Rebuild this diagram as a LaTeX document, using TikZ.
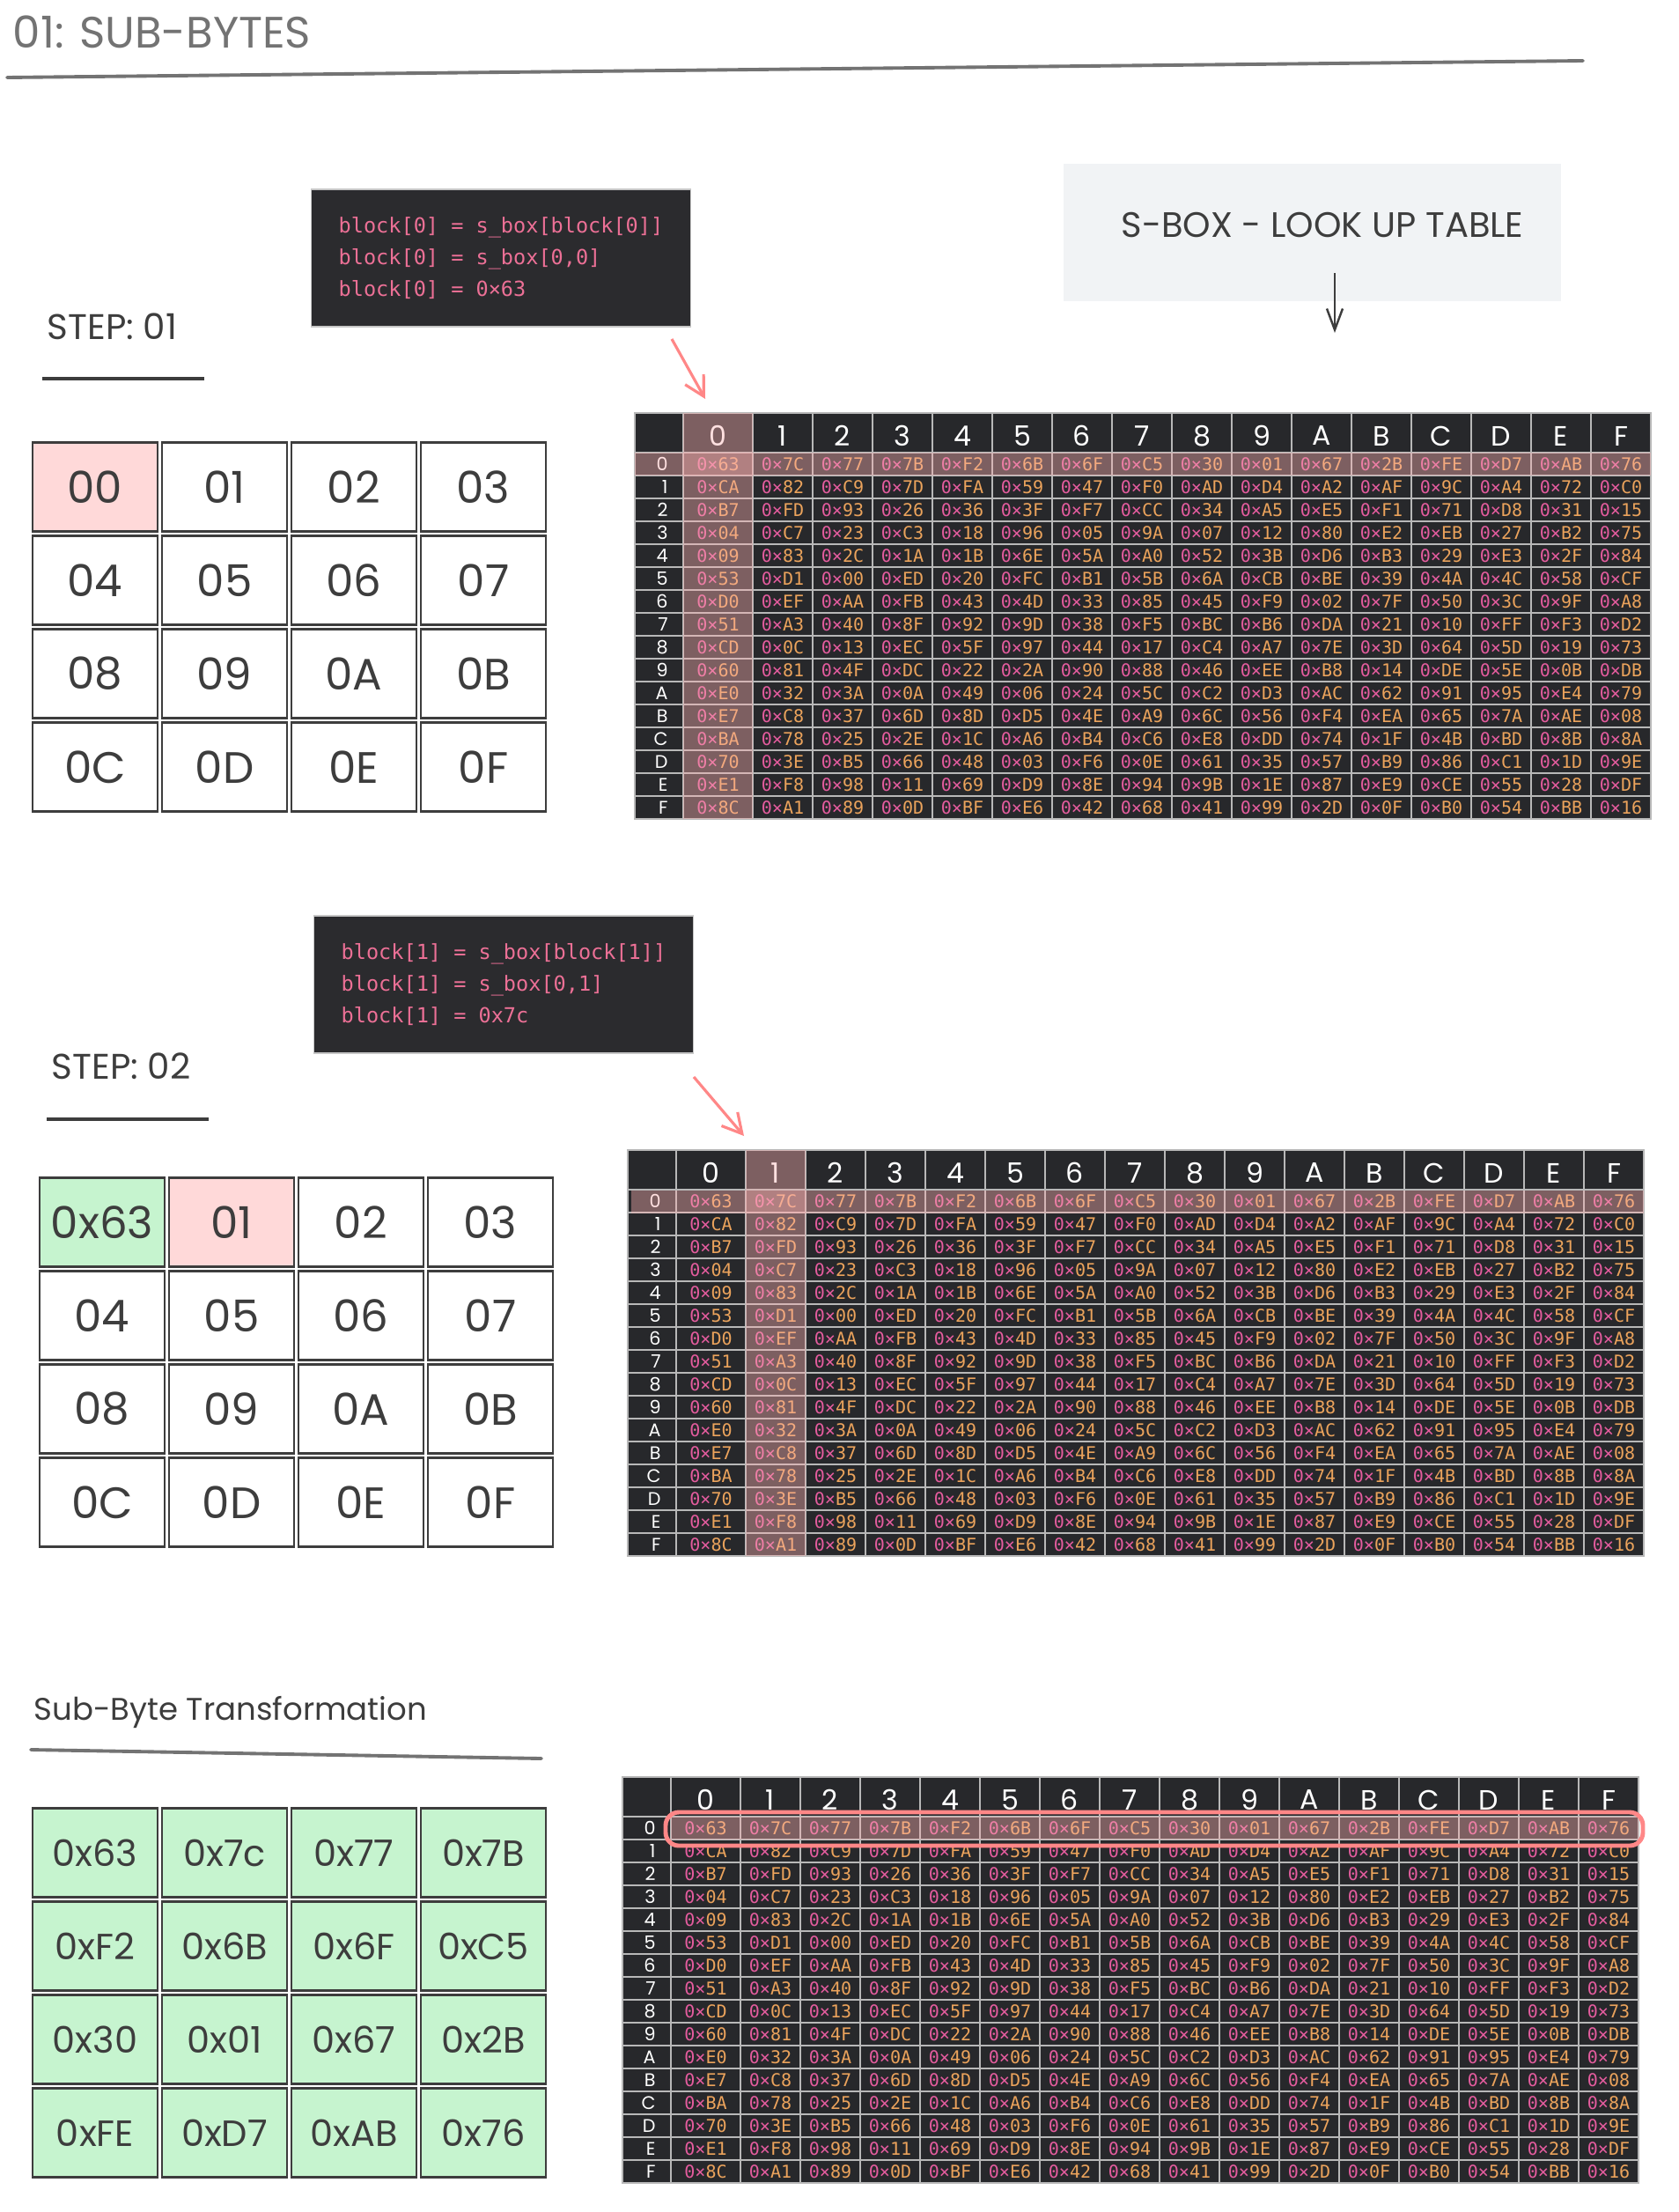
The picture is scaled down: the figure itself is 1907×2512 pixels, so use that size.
\documentclass[tikz,border=0pt]{standalone}
\usepackage{fontspec}
\setmainfont{Poppins}
\newfontfamily\handfont{Poppins}
\newfontfamily\codefont{DejaVu Sans Mono}
\usepackage{xcolor}
\usepackage{tikz}
\usetikzlibrary{arrows.meta}

\definecolor{inkgray}{HTML}{3D3D3D}
\definecolor{titlegray}{HTML}{737373}
\definecolor{cellpink}{HTML}{FFD9D9}
\definecolor{cellgreen}{HTML}{C6F4CF}
\definecolor{codebg}{HTML}{2B2B2E}
\definecolor{codepink}{HTML}{EC7096}
\definecolor{lutbg}{HTML}{F1F3F5}
\definecolor{tablebg}{HTML}{27282B}
\definecolor{tableline}{HTML}{B8B8B8}
\definecolor{hexpink}{HTML}{E45C9E}
\definecolor{hexorange}{HTML}{EBA35C}
\definecolor{hilite}{HTML}{FFB3B3}
\definecolor{redline}{HTML}{FF8787}

\newcommand{\hexcell}[1]{\textcolor{hexpink}{0×}\textcolor{hexorange}{#1}}

\def\sboxdata{%
{63,7C,77,7B,F2,6B,6F,C5,30,01,67,2B,FE,D7,AB,76},%
{CA,82,C9,7D,FA,59,47,F0,AD,D4,A2,AF,9C,A4,72,C0},%
{B7,FD,93,26,36,3F,F7,CC,34,A5,E5,F1,71,D8,31,15},%
{04,C7,23,C3,18,96,05,9A,07,12,80,E2,EB,27,B2,75},%
{09,83,2C,1A,1B,6E,5A,A0,52,3B,D6,B3,29,E3,2F,84},%
{53,D1,00,ED,20,FC,B1,5B,6A,CB,BE,39,4A,4C,58,CF},%
{D0,EF,AA,FB,43,4D,33,85,45,F9,02,7F,50,3C,9F,A8},%
{51,A3,40,8F,92,9D,38,F5,BC,B6,DA,21,10,FF,F3,D2},%
{CD,0C,13,EC,5F,97,44,17,C4,A7,7E,3D,64,5D,19,73},%
{60,81,4F,DC,22,2A,90,88,46,EE,B8,14,DE,5E,0B,DB},%
{E0,32,3A,0A,49,06,24,5C,C2,D3,AC,62,91,95,E4,79},%
{E7,C8,37,6D,8D,D5,4E,A9,6C,56,F4,EA,65,7A,AE,08},%
{BA,78,25,2E,1C,A6,B4,C6,E8,DD,74,1F,4B,BD,8B,8A},%
{70,3E,B5,66,48,03,F6,0E,61,35,57,B9,86,C1,1D,9E},%
{E1,F8,98,11,69,D9,8E,94,9B,1E,87,E9,CE,55,28,DF},%
{8C,A1,89,0D,BF,E6,42,68,41,99,2D,0F,B0,54,BB,16}}

% s-box table: name, left, top
\newcommand{\drawsbox}[3]{%
\begin{scope}[shift={(#2,#3)}]
	\fill[tablebg] (0,0) rectangle (1154,461);
	\foreach \y in {45,71,...,435} \draw[tablegrid] (0,\y) -- (1154,\y);
	\draw[tablegrid] (55,0) -- (55,461);
	\foreach \x in {134,202,...,1086} \draw[tablegrid] (\x,0) -- (\x,461);
	\draw[tablegrid] (0,0) rectangle (1154,461);
	\foreach \h [count=\c from 0] in {0,1,2,3,4,5,6,7,8,9,A,B,C,D,E,F} {
		\node[headtext] (#1-h\c) at ({100+68*\c-5.5*(\c==0)},26) {\h};
		\node[rowtext] (#1-r\c) at (50,{58+26*\c}) {\h};
	}
	\foreach \vals [count=\r from 0] in \sboxdata {
		\foreach \v [count=\c from 0] in \vals
			\node[hexval] (#1-\r-\c) at ({100+68*\c-5.5*(\c==0)},{58+26*\r}) {\hexcell{\v}};
	}
\end{scope}}

\begin{document}
\begin{tikzpicture}[x=0.1mm,y=-0.1mm]
	\tikzstyle{hand}=[text=inkgray,inner sep=0pt]
	\tikzstyle{statecell}=[draw=inkgray,line width=0.6pt,minimum width=14.2mm,minimum height=10.1mm,inner sep=0pt,text=inkgray,font=\handfont\fontsize{14.2}{16}\selectfont]
	\tikzstyle{plaincell}=[statecell,fill=white]
	\tikzstyle{pinkcell}=[statecell,fill=cellpink]
	\tikzstyle{greencell}=[statecell,fill=cellgreen]
	\tikzstyle{codebox}=[fill=codebg,draw=gray!45,line width=0.3pt,minimum width=43.1mm,minimum height=15.6mm,align=left,text=codepink,font=\codefont\fontsize{6.7}{10.2}\selectfont]
	\tikzstyle{tablegrid}=[draw=tableline,line width=0.35pt]
	\tikzstyle{headtext}=[text=white,font=\handfont\fontsize{9}{10}\selectfont]
	\tikzstyle{rowtext}=[text=white,anchor=east,font=\handfont\fontsize{5.9}{7}\selectfont]
	\tikzstyle{hexval}=[inner sep=0pt,font=\codefont\fontsize{5.7}{6}\selectfont]
	\tikzstyle{hiliteband}=[fill=hilite,fill opacity=0.4]
	\tikzstyle{pinkarrow}=[draw=redline,line width=0.9pt,-{Straight Barb[length=2.2mm,width=2.4mm]}]
	\tikzstyle{grayarrow}=[draw=inkgray,line width=0.7pt,-{Straight Barb[length=2.4mm,width=1.8mm]}]
	\fill[white] (0,0) rectangle (1907,2512);
	\useasboundingbox (0,0) rectangle (1907,2512);

	% heading
	\node[hand,text=titlegray,anchor=west,font=\handfont\fontsize{14.2}{16}\selectfont] (title) at (14,36) {01: SUB-BYTES};
	\draw[titlegray,line width=1.1pt,line cap=round] (8,88) -- (1798,69);

	% look up table label
	\node[fill=lutbg,minimum width=56.5mm,minimum height=15.5mm] (lut) at (1490,264) {};
	\node[hand,font=\handfont\fontsize{11.4}{13}\selectfont] (luttext) at (1502,255) {S-BOX - LOOK UP TABLE};
	\coordinate (lutfrom) at (1516,310);
	\coordinate (lutto) at (1516,378);
	\draw[grayarrow] (lutfrom) -- (lutto);

	% step 01
	\node[hand,anchor=west,font=\handfont\fontsize{11.5}{13}\selectfont] (step1) at (53,371) {STEP: 01};
	\draw[inkgray,line width=0.9pt] (48,430) -- (232,430);
	\node[codebox] (code1) at (569,293) {block[0] = s\_box[block[0]]\\block[0] = s\_box[0,0]\\block[0] = 0×63};
	\foreach \lbl/\sty [count=\i from 0] in {00/pinkcell,01/plaincell,02/plaincell,03/plaincell,04/plaincell,05/plaincell,06/plaincell,07/plaincell,08/plaincell,09/plaincell,0A/plaincell,0B/plaincell,0C/plaincell,0D/plaincell,0E/plaincell,0F/plaincell}
		\node[\sty] (g1-\i) at ({108+147*mod(\i,4)},{553+106*int(\i/4)}) {\lbl};
	\drawsbox{t1}{721}{469}
	\fill[hiliteband] (776,469) rectangle (855,930);
	\fill[hiliteband] (721,514) rectangle (1875,540);
	\coordinate (arr1from) at (763,385);
	\coordinate (arr1to) at (801,453);
	\draw[pinkarrow] (arr1from) -- (arr1to);

	% step 02
	\node[hand,anchor=west,font=\handfont\fontsize{11.5}{13}\selectfont] (step2) at (58,1211) {STEP: 02};
	\draw[inkgray,line width=0.9pt] (53,1271) -- (237,1271);
	\node[codebox] (code2) at (572,1118) {block[1] = s\_box[block[1]]\\block[1] = s\_box[0,1]\\block[1] = 0x7c};
	\foreach \lbl/\sty [count=\i from 0] in {0x63/greencell,01/pinkcell,02/plaincell,03/plaincell,04/plaincell,05/plaincell,06/plaincell,07/plaincell,08/plaincell,09/plaincell,0A/plaincell,0B/plaincell,0C/plaincell,0D/plaincell,0E/plaincell,0F/plaincell}
		\node[\sty] (g2-\i) at ({116+147*mod(\i,4)},{1388+106*int(\i/4)}) {\lbl};
	\drawsbox{t2}{713}{1306}
	\fill[hiliteband] (847,1306) rectangle (915,1767);
	\fill[hiliteband] (717,1352) rectangle (1867,1378);
	\coordinate (arr2from) at (788,1223);
	\coordinate (arr2to) at (845,1290);
	\draw[pinkarrow] (arr2from) -- (arr2to);

	% result
	\node[hand,anchor=west,font=\handfont\fontsize{10.1}{12}\selectfont] (result) at (38,1944) {Sub-Byte Transformation};
	\draw[titlegray,line width=1.1pt,line cap=round] (35,1987) -- (615,1997);
	\foreach \lbl [count=\i from 0] in {0x63,0x7c,0x77,0x7B,0xF2,0x6B,0x6F,0xC5,0x30,0x01,0x67,0x2B,0xFE,0xD7,0xAB,0x76}
		\node[greencell,font=\handfont\fontsize{11.8}{14}\selectfont] (g3-\i) at ({108+147*mod(\i,4)},{2104+106*int(\i/4)}) {\lbl};
	\drawsbox{t3}{707}{2018}
	\fill[hiliteband] (762,2063) rectangle (1861,2089);
	\draw[redline,line width=1.4pt,rounded corners=1.5mm] (756,2058) rectangle (1866,2096);
\end{tikzpicture}
\end{document}
